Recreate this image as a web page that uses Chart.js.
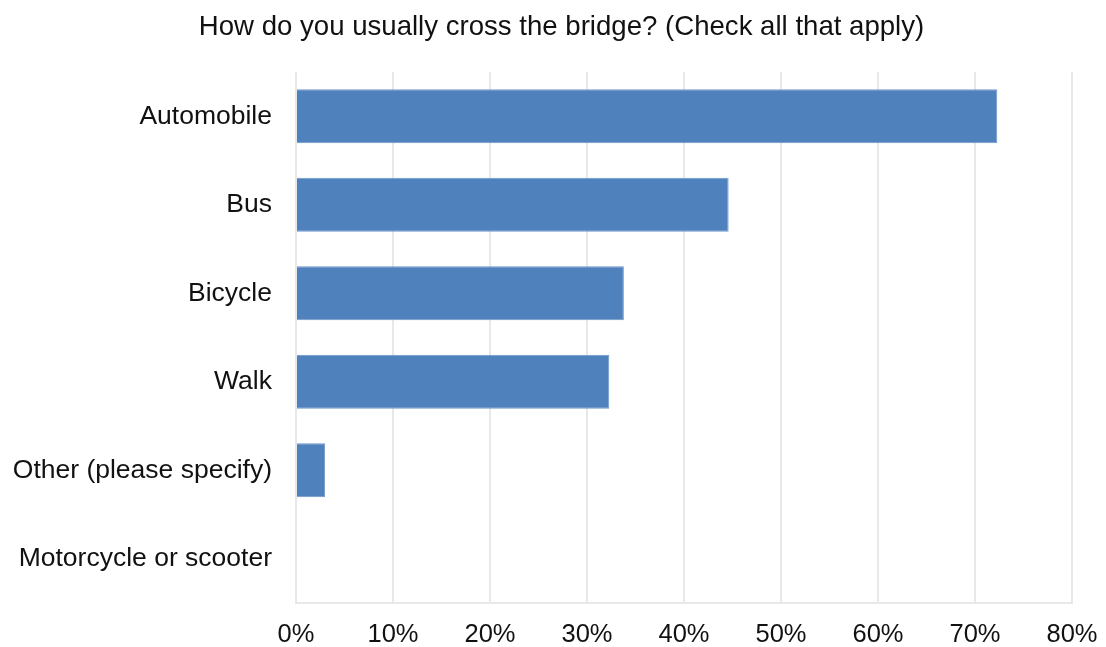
<!DOCTYPE html>
<html>
<head>
<meta charset="utf-8">
<script src="https://cdn.jsdelivr.net/npm/chart.js@4"></script>
<style>
  html, body { margin: 0; padding: 0; background: #fff; }
  #wrap { width: 1106px; height: 647px; }
</style>
</head>
<body>
<div id="wrap"><canvas id="bridgeChart"></canvas></div>
<script>
const categories = ['Automobile', 'Bus', 'Bicycle', 'Walk', 'Other (please specify)', 'Motorcycle or scooter'];
const shares = [72.3, 44.6, 33.8, 32.3, 3.0, 0];
const tickValues = [0, 10, 20, 30, 40, 50, 60, 70, 80];

const font = "'Liberation Sans', Arial, sans-serif";
const ctx = document.getElementById('bridgeChart');

// the original title sits a bit right of the canvas centre
const shiftTitle = {
    id: 'shiftTitle',
    afterLayout(chart) {
        if (chart.titleBlock) chart.titleBlock.left = 51;
    }
};

new Chart(ctx, {
    type: 'bar',
    data: {
        labels: categories,
        datasets: [
            {
                data: shares,
                backgroundColor: '#4f81bd',
                borderColor: '#6f99cc',
                borderWidth: 1,
                barPercentage: 0.61,
                categoryPercentage: 1
            }
        ]
    },
    options: {
        indexAxis: 'y',
        responsive: true,
        maintainAspectRatio: false,
        animation: false,
        layout: { padding: { left: 0, right: 34, top: 0, bottom: 0 } },
        plugins: {
            legend: { display: false },
            tooltip: { enabled: false },
            title: {
                display: true,
                text: 'How do you usually cross the bridge? (Check all that apply)',
                color: '#111',
                font: { family: font, size: 27.6, weight: 'normal' },
                padding: { top: 11, bottom: 27.9 }
            }
        },
        scales: {
            x: {
                min: 0,
                max: 80,
                afterBuildTicks: axis => { axis.ticks = tickValues.map(v => ({ value: v })); },
                afterFit: axis => {
                    axis.height = 44;
                    axis.paddingLeft = 0;
                    axis.paddingRight = 0;
                },
                grid: { color: '#e8e8e8', lineWidth: 2, drawTicks: false },
                border: { color: '#e8e8e8', width: 2 },
                ticks: {
                    padding: 17,
                    color: '#111',
                    font: { family: font, size: 25.5 },
                    callback: v => v + '%'
                }
            },
            y: {
                afterFit: axis => { axis.width = 296; },
                grid: { display: false, drawTicks: false },
                border: { display: false },
                ticks: {
                    padding: 24,
                    color: '#111',
                    font: { family: font, size: 26.5 }
                }
            }
        }
    },
    plugins: [shiftTitle]
});
</script>
</body>
</html>
